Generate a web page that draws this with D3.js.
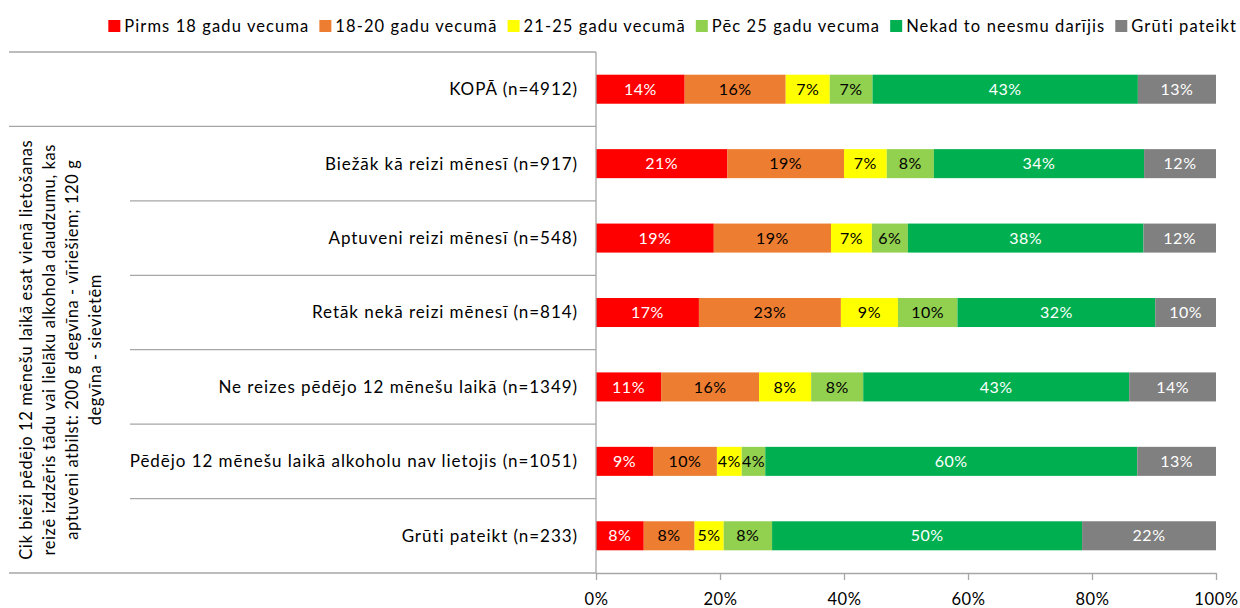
<!DOCTYPE html>
<html>
<head>
<meta charset="utf-8">
<script src="https://cdn.jsdelivr.net/npm/d3@7"></script>
<style>
  html, body { margin: 0; padding: 0; background: #fff; }
  svg { display: block; }
  text { font-family: Lato, "Open Sans", sans-serif; }
</style>
</head>
<body>
<svg id="chart" width="1240" height="608"></svg>
<script>
const categories = [
  "KOPĀ (n=4912)",
  "Biežāk kā reizi mēnesī (n=917)",
  "Aptuveni reizi mēnesī (n=548)",
  "Retāk nekā reizi mēnesī (n=814)",
  "Ne reizes pēdējo 12 mēnešu laikā (n=1349)",
  "Pēdējo 12 mēnešu laikā alkoholu nav lietojis (n=1051)",
  "Grūti pateikt (n=233)"
];
const seriesNames = ["Pirms 18 gadu vecuma", "18-20 gadu vecumā", "21-25 gadu vecumā", "Pēc 25 gadu vecuma", "Nekad to neesmu darījis", "Grūti pateikt"];
const pirms18   = [14.3, 21.2, 19.0, 16.6, 10.5,  9.2,  7.7];
const age18_20  = [16.3, 18.8, 18.9, 22.9, 15.8, 10.3,  8.2];
const age21_25  = [ 7.1,  6.9,  6.6,  9.2,  8.4,  4.0,  4.7];
const pec25     = [ 6.9,  7.6,  5.8,  9.6,  8.4,  3.8,  7.8];
const nekad     = [42.8, 33.9, 38.0, 31.9, 42.9, 60.0, 50.0];
const gruti     = [12.6, 11.6, 11.7,  9.8, 14.0, 12.7, 21.6];
const seriesValues = [pirms18, age18_20, age21_25, pec25, nekad, gruti];
const colors = ["#FF0000", "#ED7D31", "#FFFF00", "#92D050", "#00B050", "#808080"];
const labelColors = ["#ffffff", "#000000", "#000000", "#000000", "#ffffff", "#ffffff"];
const xTicks = [0, 20, 40, 60, 80, 100];
const groupTitle = [
  "Cik bieži pēdējo 12 mēnešu laikā esat vienā lietošanas",
  "reizē izdzēris tādu vai lielāku alkohola daudzumu, kas",
  "aptuveni atbilst: 200 g degvīna - vīriešiem; 120 g",
  "degvīna - sievietēm"
];

const svg = d3.select("#chart");
const axisColor = "#a6a6a6";
const FS = 16.5, LS = "0.6px";

const x = d3.scaleLinear().domain([0, 100]).range([596, 1216]);
const y = d3.scaleBand().domain(categories).range([52, 573]).paddingInner(0.61).paddingOuter(0.305);

// stacked data
const rows = categories.map((c, i) => {
  const o = { cat: c };
  seriesNames.forEach((s, j) => o[s] = seriesValues[j][i]);
  return o;
});
const stacked = d3.stack().keys(seriesNames)(rows);

const g = svg.append("g");
stacked.forEach((layer, j) => {
  const lg = g.append("g");
  lg.selectAll("rect").data(layer).join("rect")
    .attr("x", d => x(d[0]))
    .attr("y", d => y(d.data.cat))
    .attr("width", d => x(d[1]) - x(d[0]))
    .attr("height", y.bandwidth())
    .attr("fill", colors[j]);
  lg.selectAll("text").data(layer).join("text")
    .attr("x", d => (x(d[0]) + x(d[1])) / 2)
    .attr("y", d => y(d.data.cat) + y.bandwidth() / 2)
    .attr("dy", "0.35em")
    .attr("text-anchor", "middle")
    .attr("font-size", 16)
    .style("letter-spacing", "0.5px")
    .attr("fill", labelColors[j])
    .text(d => Math.round(d[1] - d[0]) + "%");
});

// x axis
const xAxis = d3.axisBottom(x).tickValues(xTicks).tickFormat(d => d + "%").tickSize(7).tickSizeOuter(0);
const xg = svg.append("g").attr("transform", "translate(0,573)").call(xAxis);
xg.select(".domain").attr("stroke", axisColor).attr("stroke-width", 1.3);
xg.selectAll(".tick line").attr("stroke", axisColor).attr("stroke-width", 1.3);
xg.selectAll(".tick text").attr("font-size", FS).attr("fill", "#000").attr("dy", "1.35em")
  .style("letter-spacing", LS)
  .style("font-family", "Lato, 'Open Sans', sans-serif");

// left category axis
const step = y.step();
const bounds = d3.range(categories.length + 1).map(i => 52 + i * step);
svg.append("line").attr("x1", 596).attr("x2", 596).attr("y1", 52).attr("y2", 573)
  .attr("stroke", axisColor).attr("stroke-width", 1.3);
svg.selectAll("line.sep").data(bounds).join("line").attr("class", "sep")
  .attr("x1", (d, i) => (i <= 1 || i === bounds.length - 1) ? 9 : 130)
  .attr("x2", 596)
  .attr("y1", d => d).attr("y2", d => d)
  .attr("stroke", axisColor).attr("stroke-width", 1.3);

// category labels
svg.selectAll("text.cat").data(categories).join("text").attr("class", "cat")
  .attr("x", 578)
  .attr("y", d => y(d) + y.bandwidth() / 2)
  .attr("dy", "0.35em")
  .attr("text-anchor", "end")
  .attr("font-size", 17)
  .style("letter-spacing", "0.95px")
  .attr("fill", "#000")
  .text(d => d);

// rotated group title
const tcx = 61, tcy = (bounds[1] + bounds[bounds.length - 1]) / 2;
const tg = svg.append("g").attr("transform", `translate(${tcx},${tcy}) rotate(-90)`);
const lineH = 23;
tg.selectAll("text").data(groupTitle).join("text")
  .attr("x", 0)
  .attr("y", (d, i) => (i - (groupTitle.length - 1) / 2) * lineH)
  .attr("dy", "0.35em")
  .attr("text-anchor", "middle")
  .attr("font-size", FS)
  .style("letter-spacing", LS)
  .attr("fill", "#000")
  .text(d => d);

// legend
const leg = svg.append("g");
let lx = 0;
seriesNames.forEach((s, j) => {
  const it = leg.append("g");
  it.append("rect").attr("x", 0).attr("y", -6).attr("width", 12).attr("height", 12).attr("fill", colors[j]);
  const t = it.append("text").attr("x", 16).attr("y", 0).attr("dy", "0.35em").attr("font-size", FS)
    .style("letter-spacing", "1.1px").attr("fill", "#000").text(s);
  const w = 16 + t.node().getComputedTextLength();
  it.attr("transform", `translate(${lx},0)`);
  lx += w + 10;
});
const legW = lx - 10;
leg.attr("transform", `translate(${1237 - legW},26)`);
</script>
</body>
</html>
